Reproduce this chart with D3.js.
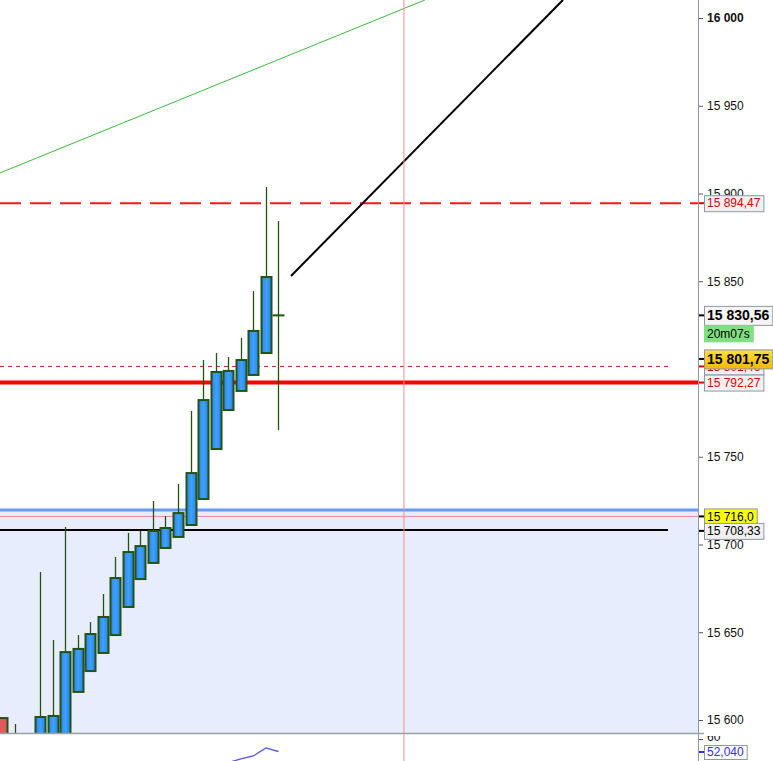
<!DOCTYPE html>
<html>
<head>
<meta charset="utf-8">
<script src="https://cdn.jsdelivr.net/npm/d3@7"></script>
<style>
  body { margin: 0; background: #fff; }
  svg { display: block; font-family: "Liberation Sans", Arial, sans-serif; }
</style>
</head>
<body>
<div id="chart"></div>
<script>
// candle index (bar position) and OHLC values
const bars   = [-3, -2, -1, 0, 1, 2, 3, 4, 5, 6, 7, 8, 9, 10, 11, 12, 13, 14, 15, 16, 17, 18, 19];
const opens  = [15601.1, 15585, 15580, 15585, 15588, 15590, 15616.0, 15627.9, 15638.2, 15648.4, 15664.4, 15680.3, 15689.5, 15698.0, 15704.3, 15711.1, 15725.9, 15754.4, 15776.6, 15787.5, 15796.6, 15809.1, 15830.56];
const highs  = [15601.1, 15597.7, 15591, 15684.3, 15645.6, 15710.0, 15648.4, 15655.8, 15671.8, 15692.9, 15706.6, 15707.7, 15724.8, 15716.2, 15734.5, 15776.1, 15805.1, 15809.1, 15806.8, 15817.7, 15844.4, 15903.7, 15884.3];
const lows   = [15575, 15580, 15575, 15580, 15585, 15588, 15616.0, 15627.9, 15638.2, 15648.4, 15664.4, 15680.3, 15689.5, 15697.4, 15704.3, 15711.1, 15725.9, 15754.4, 15776.6, 15787.5, 15796.6, 15809.1, 15765.2];
const closes = [15585, 15590, 15588, 15601.7, 15602.3, 15638.7, 15640.5, 15649.0, 15658.7, 15680.9, 15695.7, 15699.1, 15707.7, 15709.4, 15717.9, 15740.7, 15782.3, 15798.3, 15798.9, 15805.1, 15821.7, 15852.4, 15830.56];

// lower indicator panel
const indBars   = [15, 16, 17, 18, 19];
const indValues = [45, 47.3, 49.2, 54.3, 52.04];

const priceTicks = [16000, 15950, 15900, 15850, 15750, 15700, 15650, 15600];

// trend lines: [bar, price] pairs
const greenLine = [[-3.19, 15911.7], [30.68, 16010.3]];
const blackLine = [[20.0, 15853.0], [41.67, 16010.3]];
const timeMarker = 29;

// horizontal levels
const zoneTop = 15719.7;
const levelDashLong = 15894.47;
const levelRed = 15792.27;
const levelDashShort = 15801.46;
const levelPink = 15716.0;
const levelBlack = 15708.33;
const lastPrice = 15830.56;
const bidPrice = 15801.75;
const timer = "20m07s";
const indLast = 52.04;

const W = 773, H = 761;
const plotRight = 698, plotBottom = 733;

const fmt = (v, dec) => {
  const s = dec > 0 ? v.toFixed(dec) : String(Math.round(v));
  const [a, b] = s.split(".");
  const g = a.replace(/\B(?=(\d{3})+(?!\d))/g, " ");
  return b ? g + "," + b : g;
};

const svg = d3.select("#chart").append("svg")
  .attr("width", W)
  .attr("height", H);

const x = d3.scaleLinear().domain([-3.187, 52.43]).range([0, plotRight]);
const y = d3.scaleLinear().domain([16000, 15600]).range([18, 720]);
const yInd = d3.scaleLinear().domain([60, 52.04]).range([739, 751.5]);

const defs = svg.append("defs");
defs.append("clipPath").attr("id", "plot")
  .append("rect").attr("x", 0).attr("y", 0).attr("width", plotRight).attr("height", plotBottom);
defs.append("clipPath").attr("id", "ind")
  .append("rect").attr("x", 0).attr("y", plotBottom + 1).attr("width", plotRight).attr("height", H - plotBottom);
defs.append("clipPath").attr("id", "indAxis")
  .append("rect").attr("x", plotRight).attr("y", 736).attr("width", 80).attr("height", H - 736);

const grad = defs.append("linearGradient").attr("id", "blueBody")
  .attr("x1", 0).attr("x2", 1).attr("y1", 0).attr("y2", 0);
grad.append("stop").attr("offset", "0%").attr("stop-color", "#2b86ee");
grad.append("stop").attr("offset", "50%").attr("stop-color", "#3ea1ff");
grad.append("stop").attr("offset", "100%").attr("stop-color", "#2680e8");

const gold = defs.append("linearGradient").attr("id", "gold")
  .attr("x1", 0).attr("x2", 0).attr("y1", 0).attr("y2", 1);
gold.append("stop").attr("offset", "0%").attr("stop-color", "#ffe040");
gold.append("stop").attr("offset", "100%").attr("stop-color", "#f5b800");

const plot = svg.append("g").attr("clip-path", "url(#plot)");

// shaded zone
plot.append("rect")
  .attr("x", 0)
  .attr("y", y(zoneTop))
  .attr("width", plotRight)
  .attr("height", plotBottom - y(zoneTop))
  .attr("fill", "#e7edfd");

// vertical time marker
svg.append("line")
  .attr("x1", x(timeMarker)).attr("x2", x(timeMarker))
  .attr("y1", 0).attr("y2", H)
  .attr("stroke", "#ff8a8a").attr("stroke-width", 1);

// level lines
plot.append("line")
  .attr("x1", 0).attr("x2", plotRight)
  .attr("y1", y(zoneTop)).attr("y2", y(zoneTop))
  .attr("stroke", "#6699ff").attr("stroke-width", 3);
plot.append("line")
  .attr("x1", 0).attr("x2", plotRight)
  .attr("y1", y(levelPink)).attr("y2", y(levelPink))
  .attr("stroke", "#ff8095").attr("stroke-width", 1);
plot.append("line")
  .attr("x1", 0).attr("x2", 668)
  .attr("y1", y(levelBlack)).attr("y2", y(levelBlack))
  .attr("stroke", "#000").attr("stroke-width", 2);
plot.append("line")
  .attr("x1", 0).attr("x2", plotRight)
  .attr("y1", y(levelDashLong)).attr("y2", y(levelDashLong))
  .attr("stroke", "#ee1c1c").attr("stroke-width", 2)
  .attr("stroke-dasharray", "21,9");
plot.append("line")
  .attr("x1", 0).attr("x2", 668)
  .attr("y1", y(levelDashShort)).attr("y2", y(levelDashShort))
  .attr("stroke", "#cc2222").attr("stroke-width", 1)
  .attr("stroke-dasharray", "4,4");
plot.append("line")
  .attr("x1", 0).attr("x2", plotRight)
  .attr("y1", y(levelRed)).attr("y2", y(levelRed))
  .attr("stroke", "#ff0000").attr("stroke-width", 4);

// trend lines
const line = d3.line().x(d => x(d[0])).y(d => y(d[1]));
plot.append("path").attr("d", line(greenLine))
  .attr("fill", "none").attr("stroke", "#3cba3c").attr("stroke-width", 1);
plot.append("path").attr("d", line(blackLine))
  .attr("fill", "none").attr("stroke", "#000").attr("stroke-width", 2);

// candles
const candles = bars.map((b, i) => ({ b, o: opens[i], h: highs[i], l: lows[i], c: closes[i] }));
const barW = 10;

const candle = plot.selectAll("g.candle")
  .data(candles)
  .join("g")
  .attr("class", "candle")
  .attr("transform", d => `translate(${Math.round(x(d.b)) + 0.5}, 0)`);

candle.append("line")
  .attr("y1", d => y(d.h))
  .attr("y2", d => y(d.l))
  .attr("stroke", "#245212")
  .attr("stroke-width", 1.3);

candle.filter(d => d.o !== d.c)
  .append("rect")
  .attr("x", -barW / 2)
  .attr("y", d => y(Math.max(d.o, d.c)))
  .attr("width", barW)
  .attr("height", d => Math.abs(y(d.o) - y(d.c)))
  .attr("fill", d => d.c >= d.o ? "url(#blueBody)" : "#e05a5a")
  .attr("stroke", "#245212")
  .attr("stroke-width", 2);

candle.filter(d => d.o === d.c)
  .append("line")
  .attr("x1", -barW / 2 - 1).attr("x2", barW / 2 + 1)
  .attr("y1", d => y(d.o)).attr("y2", d => y(d.o))
  .attr("stroke", "#245212")
  .attr("stroke-width", 2);

// frame
svg.append("line")
  .attr("x1", plotRight + 0.5).attr("x2", plotRight + 0.5)
  .attr("y1", 0).attr("y2", H)
  .attr("stroke", "#8a9aaa").attr("stroke-width", 1);
svg.append("line")
  .attr("x1", 0).attr("x2", plotRight + 6)
  .attr("y1", plotBottom + 0.5).attr("y2", plotBottom + 0.5)
  .attr("stroke", "#9aa0a8").attr("stroke-width", 1.5);

// indicator line
svg.append("g").attr("clip-path", "url(#ind)")
  .append("path")
  .attr("d", d3.line().x((d, i) => x(indBars[i])).y(d => yInd(d))(indValues))
  .attr("fill", "none")
  .attr("stroke", "#5555ee")
  .attr("stroke-width", 1.3);

// price axis
const axis = svg.append("g").attr("transform", `translate(${plotRight + 1},0)`)
  .call(d3.axisRight(y).tickValues(priceTicks).tickSize(4).tickFormat(d => fmt(d, 0)));
axis.select(".domain").remove();
axis.selectAll(".tick line").attr("stroke", "#555");
axis.selectAll(".tick text")
  .attr("x", 8)
  .attr("fill", "#111")
  .attr("font-size", 12)
  .attr("font-family", "Liberation Sans, Arial, sans-serif")
  .attr("font-weight", d => d === 16000 ? "bold" : "normal");

// indicator axis (top of its label is cut by the panel edge)
const axisInd = svg.append("g").attr("clip-path", "url(#indAxis)")
  .append("g").attr("transform", `translate(${plotRight + 1},0)`)
  .call(d3.axisRight(yInd).tickValues([60]).tickSize(4).tickFormat(d3.format("d")));
axisInd.select(".domain").remove();
axisInd.selectAll(".tick line").attr("stroke", "#555");
axisInd.selectAll(".tick text").attr("x", 8).attr("y", -2).attr("fill", "#111").attr("font-size", 12)
  .attr("font-family", "Liberation Sans, Arial, sans-serif");

// price labels on the axis
function tag(cy, text, opts) {
  const o = Object.assign({ fill: "#f0f0f0", color: "#e00000", size: 12, bold: false, h: 16, w: null, tick: null, stroke: "#8d98a6" }, opts);
  const g = svg.append("g");
  const t = g.append("text")
    .attr("x", plotRight + 9)
    .attr("y", cy)
    .attr("dy", "0.35em")
    .attr("font-size", o.size)
    .attr("font-weight", o.bold ? "bold" : "normal")
    .attr("fill", o.color)
    .text(text);
  const tw = o.w || t.node().getComputedTextLength() + 6;
  g.insert("rect", "text")
    .attr("x", plotRight + 6.5)
    .attr("y", cy - o.h / 2 + 0.5)
    .attr("width", tw)
    .attr("height", o.h)
    .attr("fill", o.fill)
    .attr("stroke", o.stroke)
    .attr("stroke-width", 1);
  if (o.tick) {
    g.append("line")
      .attr("x1", plotRight + 1).attr("x2", plotRight + 6)
      .attr("y1", cy).attr("y2", cy)
      .attr("stroke", o.tick).attr("stroke-width", 2);
  }
  return g;
}

tag(y(levelDashLong), fmt(levelDashLong, 2), { tick: "#e00000" });
tag(y(lastPrice), fmt(lastPrice, 2), { color: "#000", size: 14, bold: true, h: 19, fill: "#f4f4f4", tick: "#000" });
tag(y(lastPrice) + 18, timer, { color: "#000", fill: "#80df80", stroke: "#80df80", h: 16 });
tag(y(levelDashShort), fmt(levelDashShort, 2), { tick: "#e00000" });
tag(y(bidPrice) - 7, fmt(bidPrice, 2), { color: "#000", size: 14, bold: true, h: 19, fill: "url(#gold)", tick: "#000" });
tag(y(levelRed), fmt(levelRed, 2), { tick: "#e00000" });
tag(y(levelPink), fmt(levelPink, 1), { color: "#000", fill: "#ffff00", tick: "#000" });
tag(y(levelBlack) + 1, fmt(levelBlack, 2), { color: "#000", fill: "#f0f0f0", tick: "#000" });
tag(yInd(indLast) + 0.5, d3.format(".3f")(indLast).replace(".", ","), { color: "#3333ee", fill: "#fafafa", tick: "#3333ee", h: 14 });
</script>
</body>
</html>
